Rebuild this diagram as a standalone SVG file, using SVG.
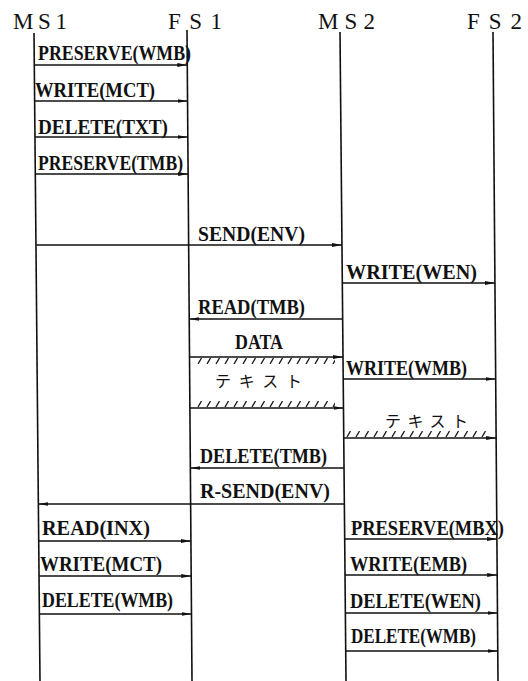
<svg xmlns="http://www.w3.org/2000/svg" width="528" height="681" viewBox="0 0 528 681">
<defs>
<style>
.hdr{font-family:"Liberation Serif","Times New Roman",serif;font-size:23px;fill:#111}
.lbl{font-family:"Liberation Serif","Times New Roman",serif;font-size:20px;font-weight:bold;fill:#111}
.jp{font-family:"Noto Sans CJK JP","Noto Sans",sans-serif;font-size:16px;fill:#111}
.life{stroke:#111;stroke-width:1.6;fill:none}
.msg{stroke:#111;stroke-width:1.3;fill:none;marker-end:url(#ah)}
.band{fill:url(#hatch)}
</style>
<marker id="ah" markerUnits="userSpaceOnUse" markerWidth="10" markerHeight="5" refX="10" refY="2.5" orient="auto">
<path d="M0,0.6 L10,2.5 L0,4.4 z" fill="#111"/>
</marker>
<pattern id="hatch" patternUnits="userSpaceOnUse" width="9" height="6">
<path d="M1,6 L4.5,0" stroke="#111" stroke-width="1.3"/>
</pattern>
</defs>
<rect width="528" height="681" fill="#fff"/>

<g id="MS1">
<text class="hdr" x="13" y="29" textLength="54" lengthAdjust="spacing">MS1</text>
<line class="life" x1="34" y1="33" x2="40" y2="681"/>
</g>
<g id="FS1">
<text class="hdr" x="168" y="29" textLength="54" lengthAdjust="spacing">FS1</text>
<line class="life" x1="187" y1="30" x2="192" y2="681"/>
</g>
<g id="MS2">
<text class="hdr" x="318" y="29" textLength="57" lengthAdjust="spacing">MS2</text>
<line class="life" x1="340" y1="32" x2="346" y2="681"/>
</g>
<g id="FS2">
<text class="hdr" x="467" y="29" textLength="55" lengthAdjust="spacing">FS2</text>
<line class="life" x1="493" y1="32" x2="498" y2="681"/>
</g>

<g id="connectors">
<line class="msg" x1="34.3" y1="65" x2="187.3" y2="65"/>
<line class="msg" x1="34.6" y1="101" x2="187.5" y2="101"/>
<line class="msg" x1="35" y1="137" x2="187.8" y2="137"/>
<line class="msg" x1="35.3" y1="174" x2="188.1" y2="174"/>
<line class="msg" x1="36" y1="245" x2="342" y2="245"/>
<line class="msg" x1="342.3" y1="283" x2="495" y2="283"/>
<line class="msg" x1="342.7" y1="319" x2="189.2" y2="319"/>
<line class="msg" x1="189.5" y1="357" x2="343" y2="357"/>
<line class="msg" x1="189.9" y1="408" x2="343.5" y2="408"/>
<line class="msg" x1="343.2" y1="379" x2="495.7" y2="379"/>
<line class="msg" x1="343.8" y1="438" x2="496.1" y2="438"/>
<line class="msg" x1="344" y1="468" x2="190.4" y2="468"/>
<line class="msg" x1="344.4" y1="504" x2="38.4" y2="504"/>
<line class="msg" x1="38.7" y1="541" x2="190.9" y2="541"/>
<line class="msg" x1="39" y1="576" x2="191.2" y2="576"/>
<line class="msg" x1="39.4" y1="614" x2="191.5" y2="614"/>
<line class="msg" x1="344.7" y1="539" x2="496.9" y2="539"/>
<line class="msg" x1="345" y1="575" x2="497.2" y2="575"/>
<line class="msg" x1="345.4" y1="613" x2="497.5" y2="613"/>
<line class="msg" x1="345.7" y1="651" x2="497.8" y2="651"/>
<g transform="translate(197,358)"><rect class="band" width="138" height="6"/></g>
<g transform="translate(197,401)"><rect class="band" width="138" height="6"/></g>
<g transform="translate(346,431)"><rect class="band" width="141" height="6"/></g>
</g>

<g id="labels">
<text class="lbl" x="38" y="60" textLength="153" lengthAdjust="spacingAndGlyphs">PRESERVE(WMB)</text>
<text class="lbl" x="35" y="97" textLength="120" lengthAdjust="spacingAndGlyphs">WRITE(MCT)</text>
<text class="lbl" x="38" y="134" textLength="130" lengthAdjust="spacingAndGlyphs">DELETE(TXT)</text>
<text class="lbl" x="38" y="170" textLength="145" lengthAdjust="spacingAndGlyphs">PRESERVE(TMB)</text>
<text class="lbl" x="198" y="241" textLength="107" lengthAdjust="spacingAndGlyphs">SEND(ENV)</text>
<text class="lbl" x="346" y="279" textLength="131" lengthAdjust="spacingAndGlyphs">WRITE(WEN)</text>
<text class="lbl" x="198" y="314" textLength="107" lengthAdjust="spacingAndGlyphs">READ(TMB)</text>
<text class="lbl" x="235" y="349" textLength="48" lengthAdjust="spacingAndGlyphs">DATA</text>
<text class="jp" x="215" y="387" textLength="87" lengthAdjust="spacing">テキスト</text>
<text class="lbl" x="346" y="375" textLength="121" lengthAdjust="spacingAndGlyphs">WRITE(WMB)</text>
<text class="jp" x="385" y="427" textLength="83" lengthAdjust="spacing">テキスト</text>
<text class="lbl" x="200" y="463" textLength="127" lengthAdjust="spacingAndGlyphs">DELETE(TMB)</text>
<text class="lbl" x="200" y="498" textLength="130" lengthAdjust="spacingAndGlyphs">R-SEND(ENV)</text>
<text class="lbl" x="42" y="535" textLength="108" lengthAdjust="spacingAndGlyphs">READ(INX)</text>
<text class="lbl" x="40" y="571" textLength="122" lengthAdjust="spacingAndGlyphs">WRITE(MCT)</text>
<text class="lbl" x="42" y="607" textLength="131" lengthAdjust="spacingAndGlyphs">DELETE(WMB)</text>
<text class="lbl" x="351" y="535" textLength="153" lengthAdjust="spacingAndGlyphs">PRESERVE(MBX)</text>
<text class="lbl" x="350" y="571" textLength="117" lengthAdjust="spacingAndGlyphs">WRITE(EMB)</text>
<text class="lbl" x="350" y="608" textLength="131" lengthAdjust="spacingAndGlyphs">DELETE(WEN)</text>
<text class="lbl" x="351" y="643" textLength="125" lengthAdjust="spacingAndGlyphs">DELETE(WMB)</text>
</g>
</svg>
